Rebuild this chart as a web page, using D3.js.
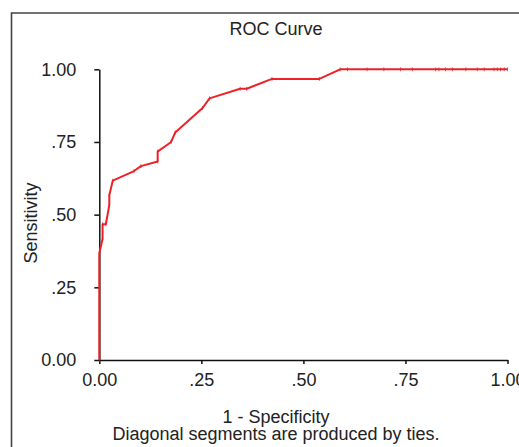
<!DOCTYPE html>
<html>
<head>
<meta charset="utf-8">
<script src="https://cdn.jsdelivr.net/npm/d3@7"></script>
<style>
  body { margin: 0; background: #fff; }
  svg { display: block; font-family: "Liberation Sans", Arial, sans-serif; }
  .axis path, .axis line { stroke: #111; stroke-width: 1.5px; }
  .axis text { font-size: 18px; fill: #222; }
</style>
</head>
<body>
<div id="chart-area"></div>
<script>
// ROC curve points
var fpr = [0, 0, 0, 0, 0, 0, 0, 0, 0, 0, 0, 0, 0, 0, 0, 0, 0, 0, 0, 0, 0, 0, 0,
    0.008, 0.008, 0.016, 0.0245, 0.0245, 0.033, 0.085, 0.102, 0.143, 0.143,
    0.176, 0.186, 0.253, 0.270, 0.345, 0.361, 0.423, 0.539, 0.590,
    0.608, 0.656, 0.697, 0.738, 0.767, 0.824, 0.832, 0.848, 0.865, 0.898,
    0.926, 0.943, 0.967, 0.975, 0.983, 0.992, 1.0];
var tpr = [0, 0.017, 0.033, 0.05, 0.067, 0.083, 0.1, 0.117, 0.133, 0.15, 0.167,
    0.183, 0.2, 0.217, 0.233, 0.25, 0.267, 0.283, 0.3, 0.317, 0.333, 0.35, 0.367,
    0.417, 0.467, 0.467, 0.533, 0.567, 0.617, 0.65, 0.667, 0.683, 0.717,
    0.75, 0.783, 0.867, 0.9, 0.933, 0.933, 0.967, 0.967, 1.0,
    1.0, 1.0, 1.0, 1.0, 1.0, 1.0, 1.0, 1.0, 1.0, 1.0,
    1.0, 1.0, 1.0, 1.0, 1.0, 1.0, 1.0];
var tickValues = [0, 0.25, 0.5, 0.75, 1];
var tickLabels = ["0.00", ".25", ".50", ".75", "1.00"];

var W = 519, H = 447;
var svg = d3.select("#chart-area").append("svg")
    .attr("width", W)
    .attr("height", H);

// outer frame (runs off the right / bottom edge)
svg.append("path")
    .attr("d", "M11.5," + H + "V13H" + (W + 2))
    .attr("fill", "none")
    .attr("stroke", "#444")
    .attr("stroke-width", 1.6);

var x = d3.scaleLinear().domain([0, 1]).range([99.3, 507.5]);
var y = d3.scaleLinear().domain([0, 1]).range([360, 69.3]);

var fmt = function(d) { return tickLabels[tickValues.indexOf(d)]; };

var xAxis = svg.append("g")
    .attr("class", "x axis")
    .attr("transform", "translate(0,360)")
    .call(d3.axisBottom(x).tickValues(tickValues).tickFormat(fmt)
        .tickSize(4).tickSizeOuter(0).tickPadding(9));
xAxis.selectAll("text").attr("dy", "0.71em");

svg.append("g")
    .attr("class", "y axis")
    .attr("transform", "translate(99.3,0)")
    .call(d3.axisLeft(y).tickValues(tickValues).tickFormat(fmt)
        .tickSize(5).tickSizeOuter(0).tickPadding(18));

// curve
var pts = fpr.map(function(d, i) { return [d, tpr[i]]; });
var line = d3.line()
    .x(function(d) { return x(d[0]); })
    .y(function(d) { return y(d[1]); });

svg.append("path")
    .attr("d", line(pts))
    .attr("fill", "none")
    .attr("stroke", "#ec2227")
    .attr("stroke-width", 2)
    .attr("stroke-linejoin", "round");

// small point markers
svg.selectAll(".mark").data(pts).enter().append("line")
    .attr("class", "mark")
    .attr("x1", function(d) { return x(d[0]); })
    .attr("x2", function(d) { return x(d[0]); })
    .attr("y1", function(d) { return y(d[1]) - 2; })
    .attr("y2", function(d) { return y(d[1]) + 2; })
    .attr("stroke", "#e0202a")
    .attr("stroke-opacity", 0.7)
    .attr("stroke-width", 1);

// labels
var txt = function(xp, yp, s) {
    return svg.append("text")
        .attr("x", xp).attr("y", yp)
        .attr("text-anchor", "middle")
        .attr("font-size", "18px")
        .attr("fill", "#222")
        .text(s);
};
txt(276, 35, "ROC Curve");
txt(276, 423, "1 - Specificity");
txt(276, 440, "Diagonal segments are produced by ties.");

svg.append("text")
    .attr("transform", "translate(36.5,223) rotate(-90)")
    .attr("text-anchor", "middle")
    .attr("font-size", "18px")
    .attr("fill", "#222")
    .text("Sensitivity");
</script>
</body>
</html>
